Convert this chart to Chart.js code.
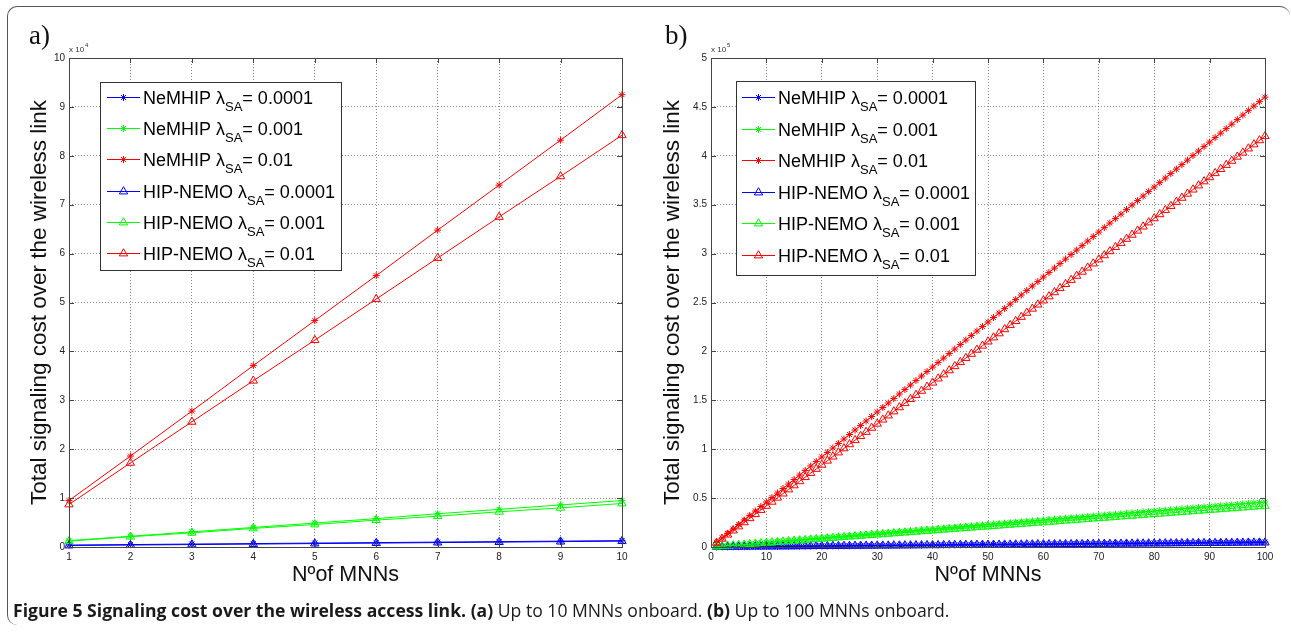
<!DOCTYPE html>
<html>
<head>
<meta charset="utf-8">
<title>Signaling cost over the wireless access link</title>
<script src="https://cdn.jsdelivr.net/npm/chart.js@4.4.1/dist/chart.umd.min.js"></script>
<style>
  html, body { margin: 0; padding: 0; background: #fff; }
  body { width: 1291px; height: 637px; position: relative; overflow: hidden; }
  .frame {
    position: absolute; left: 7px; top: 6px; width: 1283px; height: 619px;
    box-sizing: border-box; border-top: 1px solid #555; border-left: 1px solid #555;
    border-radius: 10px 10px 0 10px;
  }
  .panel { position: absolute; top: 0; }
  .tag {
    position: absolute; top: 22px; font-family: "Liberation Serif", "Times New Roman", serif;
    font-size: 27px; line-height: 27px; color: #111;
  }
  .caption {
    position: absolute; left: 13px; top: 599px; white-space: nowrap;
    font-family: "Open Sans", "Noto Sans", sans-serif; font-size: 17.6px; line-height: 22px; color: #1a1a1a;
  }
</style>
</head>
<body>
<div class="frame"></div>
<canvas id="costA" class="panel" style="left:0" width="650" height="600"></canvas>
<canvas id="costB" class="panel" style="left:650px" width="641" height="600"></canvas>
<div class="tag" style="left:29px">a)</div>
<div class="tag" style="left:665px">b)</div>
<div class="caption"><b>Figure 5 Signaling cost over the wireless access link. (a)</b> Up to 10 MNNs onboard. <b>(b)</b> Up to 100 MNNs onboard.</div>

<script>
// series order as in the legend
const schemes = ['NeMHIP', 'NeMHIP', 'NeMHIP', 'HIP-NEMO', 'HIP-NEMO', 'HIP-NEMO'];
const lambdas = ['0.0001', '0.001', '0.01', '0.0001', '0.001', '0.01'];
const colors = ['#0000ff', '#00ff00', '#ff0000', '#0000ff', '#00ff00', '#ff0000'];
const markers = ['star', 'star', 'star', 'triangle', 'triangle', 'triangle'];

// (a) up to 10 MNNs, cost in units of 1e4
const mnnA = [1, 2, 3, 4, 5, 6, 7, 8, 9, 10];
const neBlueA = [0.04, 0.05, 0.06, 0.07, 0.08, 0.09, 0.10, 0.11, 0.12, 0.13];
const neGreenA = [0.13, 0.22, 0.31, 0.40, 0.49, 0.58, 0.68, 0.77, 0.86, 0.95];
const neRedA = [0.95, 1.86, 2.78, 3.71, 4.63, 5.55, 6.48, 7.40, 8.32, 9.25];
const hnBlueA = [0.03, 0.04, 0.05, 0.06, 0.07, 0.08, 0.09, 0.10, 0.11, 0.12];
const hnGreenA = [0.12, 0.21, 0.29, 0.38, 0.46, 0.55, 0.63, 0.72, 0.80, 0.89];
const hnRedA = [0.87, 1.72, 2.56, 3.40, 4.23, 5.07, 5.91, 6.75, 7.58, 8.42];

// (b) up to 100 MNNs, cost in units of 1e5
const mnnB = [1, 2, 3, 4, 5, 6, 7, 8, 9, 10, 11, 12, 13, 14, 15, 16, 17, 18, 19, 20,
  21, 22, 23, 24, 25, 26, 27, 28, 29, 30, 31, 32, 33, 34, 35, 36, 37, 38, 39, 40,
  41, 42, 43, 44, 45, 46, 47, 48, 49, 50, 51, 52, 53, 54, 55, 56, 57, 58, 59, 60,
  61, 62, 63, 64, 65, 66, 67, 68, 69, 70, 71, 72, 73, 74, 75, 76, 77, 78, 79, 80,
  81, 82, 83, 84, 85, 86, 87, 88, 89, 90, 91, 92, 93, 94, 95, 96, 97, 98, 99, 100];
const neBlueB = [0.0005, 0.001, 0.0015, 0.002, 0.0025, 0.003, 0.0035, 0.004, 0.0045, 0.005,
  0.0055, 0.006, 0.0065, 0.007, 0.0075, 0.008, 0.0085, 0.009, 0.0095, 0.01,
  0.0105, 0.011, 0.0115, 0.012, 0.0125, 0.013, 0.0135, 0.014, 0.0145, 0.015,
  0.0155, 0.016, 0.0165, 0.017, 0.0175, 0.018, 0.0185, 0.019, 0.0195, 0.02,
  0.0205, 0.021, 0.0215, 0.022, 0.0225, 0.023, 0.0235, 0.024, 0.0245, 0.025,
  0.0255, 0.026, 0.0265, 0.027, 0.0275, 0.028, 0.0285, 0.029, 0.0295, 0.03,
  0.0305, 0.031, 0.0315, 0.032, 0.0325, 0.033, 0.0335, 0.034, 0.0345, 0.035,
  0.0355, 0.036, 0.0365, 0.037, 0.0375, 0.038, 0.0385, 0.039, 0.0395, 0.04,
  0.0405, 0.041, 0.0415, 0.042, 0.0425, 0.043, 0.0435, 0.044, 0.0445, 0.045,
  0.0455, 0.046, 0.0465, 0.047, 0.0475, 0.048, 0.0485, 0.049, 0.0495, 0.05];
const neGreenB = [0.005, 0.009, 0.014, 0.018, 0.023, 0.028, 0.032, 0.037, 0.041, 0.046,
  0.051, 0.055, 0.06, 0.064, 0.069, 0.074, 0.078, 0.083, 0.087, 0.092,
  0.097, 0.101, 0.106, 0.11, 0.115, 0.12, 0.124, 0.129, 0.133, 0.138,
  0.143, 0.147, 0.152, 0.156, 0.161, 0.166, 0.17, 0.175, 0.179, 0.184,
  0.189, 0.193, 0.198, 0.202, 0.207, 0.212, 0.216, 0.221, 0.225, 0.23,
  0.235, 0.239, 0.244, 0.248, 0.253, 0.258, 0.262, 0.267, 0.271, 0.276,
  0.281, 0.285, 0.29, 0.294, 0.299, 0.304, 0.308, 0.313, 0.317, 0.322,
  0.327, 0.331, 0.336, 0.34, 0.345, 0.35, 0.354, 0.359, 0.363, 0.368,
  0.373, 0.377, 0.382, 0.386, 0.391, 0.396, 0.4, 0.405, 0.409, 0.414,
  0.419, 0.423, 0.428, 0.432, 0.437, 0.442, 0.446, 0.451, 0.455, 0.46];
const neRedB = [0.046, 0.092, 0.138, 0.184, 0.23, 0.276, 0.322, 0.368, 0.414, 0.46,
  0.506, 0.552, 0.598, 0.644, 0.69, 0.736, 0.782, 0.828, 0.874, 0.92,
  0.966, 1.012, 1.058, 1.104, 1.15, 1.196, 1.242, 1.288, 1.334, 1.38,
  1.426, 1.472, 1.518, 1.564, 1.61, 1.656, 1.702, 1.748, 1.794, 1.84,
  1.886, 1.932, 1.978, 2.024, 2.07, 2.116, 2.162, 2.208, 2.254, 2.3,
  2.346, 2.392, 2.438, 2.484, 2.53, 2.576, 2.622, 2.668, 2.714, 2.76,
  2.806, 2.852, 2.898, 2.944, 2.99, 3.036, 3.082, 3.128, 3.174, 3.22,
  3.266, 3.312, 3.358, 3.404, 3.45, 3.496, 3.542, 3.588, 3.634, 3.68,
  3.726, 3.772, 3.818, 3.864, 3.91, 3.956, 4.002, 4.048, 4.094, 4.14,
  4.186, 4.232, 4.278, 4.324, 4.37, 4.416, 4.462, 4.508, 4.554, 4.6];
const hnBlueB = [0.0, 0.001, 0.001, 0.002, 0.002, 0.003, 0.003, 0.004, 0.004, 0.005,
  0.005, 0.005, 0.006, 0.006, 0.007, 0.007, 0.008, 0.008, 0.009, 0.009,
  0.009, 0.01, 0.01, 0.011, 0.011, 0.012, 0.012, 0.013, 0.013, 0.014,
  0.014, 0.014, 0.015, 0.015, 0.016, 0.016, 0.017, 0.017, 0.018, 0.018,
  0.018, 0.019, 0.019, 0.02, 0.02, 0.021, 0.021, 0.022, 0.022, 0.023,
  0.023, 0.023, 0.024, 0.024, 0.025, 0.025, 0.026, 0.026, 0.027, 0.027,
  0.027, 0.028, 0.028, 0.029, 0.029, 0.03, 0.03, 0.031, 0.031, 0.032,
  0.032, 0.032, 0.033, 0.033, 0.034, 0.034, 0.035, 0.035, 0.036, 0.036,
  0.036, 0.037, 0.037, 0.038, 0.038, 0.039, 0.039, 0.04, 0.04, 0.041,
  0.041, 0.041, 0.042, 0.042, 0.043, 0.043, 0.044, 0.044, 0.045, 0.045];
const hnGreenB = [0.004, 0.008, 0.013, 0.017, 0.021, 0.025, 0.029, 0.034, 0.038, 0.042,
  0.046, 0.05, 0.055, 0.059, 0.063, 0.067, 0.071, 0.076, 0.08, 0.084,
  0.088, 0.092, 0.097, 0.101, 0.105, 0.109, 0.113, 0.118, 0.122, 0.126,
  0.13, 0.134, 0.139, 0.143, 0.147, 0.151, 0.155, 0.16, 0.164, 0.168,
  0.172, 0.176, 0.181, 0.185, 0.189, 0.193, 0.197, 0.202, 0.206, 0.21,
  0.214, 0.218, 0.223, 0.227, 0.231, 0.235, 0.239, 0.244, 0.248, 0.252,
  0.256, 0.26, 0.265, 0.269, 0.273, 0.277, 0.281, 0.286, 0.29, 0.294,
  0.298, 0.302, 0.307, 0.311, 0.315, 0.319, 0.323, 0.328, 0.332, 0.336,
  0.34, 0.344, 0.349, 0.353, 0.357, 0.361, 0.365, 0.37, 0.374, 0.378,
  0.382, 0.386, 0.391, 0.395, 0.399, 0.403, 0.407, 0.412, 0.416, 0.42];
const hnRedB = [0.042, 0.084, 0.126, 0.168, 0.21, 0.252, 0.294, 0.336, 0.378, 0.42,
  0.462, 0.504, 0.546, 0.588, 0.63, 0.672, 0.714, 0.756, 0.798, 0.84,
  0.882, 0.924, 0.966, 1.008, 1.05, 1.092, 1.134, 1.176, 1.218, 1.26,
  1.302, 1.344, 1.386, 1.428, 1.47, 1.512, 1.554, 1.596, 1.638, 1.68,
  1.722, 1.764, 1.806, 1.848, 1.89, 1.932, 1.974, 2.016, 2.058, 2.1,
  2.142, 2.184, 2.226, 2.268, 2.31, 2.352, 2.394, 2.436, 2.478, 2.52,
  2.562, 2.604, 2.646, 2.688, 2.73, 2.772, 2.814, 2.856, 2.898, 2.94,
  2.982, 3.024, 3.066, 3.108, 3.15, 3.192, 3.234, 3.276, 3.318, 3.36,
  3.402, 3.444, 3.486, 3.528, 3.57, 3.612, 3.654, 3.696, 3.738, 3.78,
  3.822, 3.864, 3.906, 3.948, 3.99, 4.032, 4.074, 4.116, 4.158, 4.2];

const FAM = '"Liberation Sans", Arial, Helvetica, sans-serif';

function buildDatasets(xs, series) {
  return series.map((vals, i) => ({
    label: `${schemes[i]} λSA= ${lambdas[i]}`,
    scheme: schemes[i],
    lambda: lambdas[i],
    data: xs.map((x, k) => ({ x: x, y: vals[k] })),
    borderColor: colors[i],
    borderWidth: 1,
    pointStyle: markers[i],
    pointRadius: markers[i] === 'star' ? 3.5 : 4.8,
    pointBorderColor: colors[i],
    pointBackgroundColor: 'rgba(0,0,0,0)',
    pointBorderWidth: 1,
    order: 6 - i,
    clip: false
  }));
}

// axes box with inward ticks (all four sides) and the exponent label
const axesBox = {
  id: 'axesBox',
  afterDraw(chart, args, opts) {
    const { ctx, chartArea: a } = chart;
    const xs = chart.scales.x, ys = chart.scales.y;
    ctx.save();
    ctx.strokeStyle = '#444';
    ctx.lineWidth = 1;
    ctx.strokeRect(a.left + 0.5, a.top + 0.5, a.right - a.left, a.bottom - a.top);
    ctx.beginPath();
    xs.ticks.forEach(t => {
      const px = Math.round(xs.getPixelForValue(t.value)) + 0.5;
      ctx.moveTo(px, a.bottom); ctx.lineTo(px, a.bottom - 5);
      ctx.moveTo(px, a.top); ctx.lineTo(px, a.top + 5);
    });
    ys.ticks.forEach(t => {
      const py = Math.round(ys.getPixelForValue(t.value)) + 0.5;
      ctx.moveTo(a.left, py); ctx.lineTo(a.left + 5, py);
      ctx.moveTo(a.right, py); ctx.lineTo(a.right - 5, py);
    });
    ctx.stroke();

    // "x 10^n" multiplier above the y axis
    ctx.fillStyle = '#333';
    ctx.textBaseline = 'alphabetic';
    ctx.font = `8px ${FAM}`;
    const base = 'x 10';
    ctx.fillText(base, a.left, a.top - 6);
    const w = ctx.measureText(base).width;
    ctx.font = `6px ${FAM}`;
    ctx.fillText(opts.exponent, a.left + w + 1, a.top - 11);
    ctx.restore();
  }
};

// boxed legend with subscripted lambda
const legendBox = {
  id: 'legendBox',
  afterDraw(chart, args, opts) {
    const { ctx } = chart;
    ctx.save();
    ctx.fillStyle = '#fff';
    ctx.fillRect(opts.x, opts.y, opts.w, opts.h);
    ctx.strokeStyle = '#333';
    ctx.lineWidth = 1;
    ctx.strokeRect(opts.x + 0.5, opts.y + 0.5, opts.w, opts.h);
    chart.data.datasets.forEach((ds, i) => {
      const cy = Math.round(opts.rowTop + i * opts.rowGap);
      ctx.strokeStyle = ds.borderColor;
      ctx.lineWidth = 1;
      ctx.beginPath();
      ctx.moveTo(opts.lineX0, cy + 0.5);
      ctx.lineTo(opts.lineX1, cy + 0.5);
      ctx.stroke();
      ctx.fillStyle = 'rgba(0,0,0,0)';
      Chart.helpers.drawPoint(ctx, {
        pointStyle: ds.pointStyle, radius: ds.pointRadius, rotation: 0, borderWidth: 1
      }, (opts.lineX0 + opts.lineX1) / 2, cy + 0.5);

      ctx.fillStyle = '#000';
      ctx.textBaseline = 'alphabetic';
      let tx = opts.textX;
      const baseY = cy + 6.5;
      const head = `${ds.scheme} λ`;
      ctx.font = `18px ${FAM}`;
      ctx.fillText(head, tx, baseY);
      tx += ctx.measureText(head).width;
      ctx.font = `13px ${FAM}`;
      ctx.fillText('SA', tx, baseY + 7);
      tx += ctx.measureText('SA').width;
      ctx.font = `18px ${FAM}`;
      ctx.fillText(`= ${ds.lambda}`, tx, baseY);
    });
    ctx.restore();
  }
};

function axisOptions(cfg) {
  const tickFont = { size: 10, family: FAM };
  const gridStyle = { color: 'rgba(0,0,0,0.45)', lineWidth: 1, drawTicks: false };
  return {
    x: {
      type: 'linear', min: cfg.xMin, max: cfg.xMax,
      grid: gridStyle,
      border: { display: false, dash: [1, 2] },
      ticks: { stepSize: cfg.xStep, font: tickFont, color: '#222', padding: 4, maxRotation: 0, autoSkip: false,
        callback: v => String(v) },
      title: { display: true, text: 'Nºof MNNs', color: '#111', font: { size: 21.5, family: FAM },
        padding: { top: 0, bottom: 12 } },
      afterFit: s => { s.height = 53; }
    },
    y: {
      type: 'linear', min: 0, max: cfg.yMax,
      grid: gridStyle,
      border: { display: false, dash: [1, 2] },
      ticks: { stepSize: cfg.yStep, font: tickFont, color: '#222', padding: 4, autoSkip: false,
        callback: v => String(v) },
      title: { display: true, text: 'Total signaling cost over the wireless link', color: '#111',
        font: { size: 22.5, family: FAM }, padding: { top: cfg.titlePad, bottom: 0 } },
      afterFit: s => { s.width = cfg.yWidth; }
    }
  };
}

function makeChart(id, xs, series, cfg) {
  return new Chart(document.getElementById(id), {
    type: 'line',
    data: { datasets: buildDatasets(xs, series) },
    options: {
      responsive: false,
      animation: false,
      devicePixelRatio: 1,
      layout: { padding: { left: 0, top: 58, right: cfg.padRight, bottom: 0 } },
      scales: axisOptions(cfg),
      plugins: {
        legend: { display: false },
        tooltip: { enabled: false },
        axesBox: { exponent: cfg.exponent },
        legendBox: cfg.legend
      }
    },
    plugins: [axesBox, legendBox]
  });
}

makeChart('costA', mnnA, [neBlueA, neGreenA, neRedA, hnBlueA, hnGreenA, hnRedA], {
  xMin: 1, xMax: 10, xStep: 1, yMax: 10, yStep: 1,
  yWidth: 69, padRight: 28, titlePad: 26, exponent: '4',
  legend: { x: 100, y: 82, w: 241, h: 188, rowTop: 97, rowGap: 31.2, lineX0: 107, lineX1: 140, textX: 143 }
});

makeChart('costB', mnnB, [neBlueB, neGreenB, neRedB, hnBlueB, hnGreenB, hnRedB], {
  xMin: 0, xMax: 100, xStep: 10, yMax: 5, yStep: 0.5,
  yWidth: 61, padRight: 26, titlePad: 9, exponent: '5',
  legend: { x: 86, y: 81, w: 239, h: 194, rowTop: 97, rowGap: 31.6, lineX0: 92, lineX1: 125, textX: 128 }
});
</script>
</body>
</html>
